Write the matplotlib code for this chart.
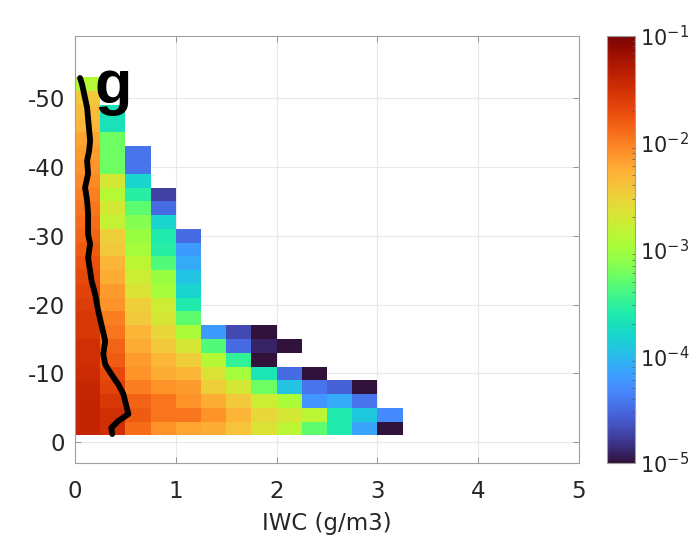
import numpy as np
import matplotlib
matplotlib.use("Agg")
import matplotlib.pyplot as plt
from matplotlib.colors import LogNorm

plt.rcParams['font.family'] = ['DejaVu Sans']
plt.rcParams['axes.unicode_minus'] = False

# IWC bins (g/m3) and temperature bins (deg C)
iwc_edges = np.arange(0, 3.5, 0.25)
temp_edges = np.arange(-53, 0, 2)

# log10 of the normalised frequency, per IWC column, listed from the
# coldest occupied row down to the -1 C row; None = no samples
log_freq_cols = [
    [-2.9, -2.45, -2.35, -2.3, -2.2, -2.15, -2.1, -2.05, -2.0, -1.95, -1.9, -1.85, -1.8,
     -1.75, -1.7, -1.65, -1.6, -1.55, -1.55, -1.5, -1.5, -1.45, -1.42, -1.4, -1.4, -1.4],
    [-3.7, -3.7, -3.25, -3.25, -3.25, -2.7, -2.9, -2.7, -2.8, -2.5, -2.45, -2.3, -2.25,
     -2.15, -2.1, -2.0, -1.95, -1.85, -1.8, -1.7, -1.65, -1.55, -1.5, -1.5],
    [-4.45, -4.45, -3.8, -3.55, -3.3, -3.15, -3.05, -3.0, -2.85, -2.75, -2.65, -2.5, -2.45,
     -2.3, -2.25, -2.15, -2.1, -2.0, -1.85, -1.8, -1.9],
    [-4.75, -4.5, -3.8, -3.6, -3.55, -3.35, -3.05, -3.0, -2.75, -2.7, -2.55, -2.45, -2.3,
     -2.25, -2.1, -1.95, -1.95, -2.1],
    [-4.5, -4.2, -4.1, -3.95, -3.8, -3.6, -3.3, -2.95, -2.7, -2.5, -2.3, -2.15, -2.1,
     -1.95, -2.2],
    [-4.2, -3.35, -2.9, -2.65, -2.5, -2.25, -2.1, -2.25],
    [-4.7, -4.5, -3.5, -3.0, -2.7, -2.45, -2.3, -2.4],
    [-5.0, -4.9, -5.0, -3.65, -3.25, -2.75, -2.55, -2.65],
    [-5.0, None, -4.5, -3.95, -2.95, -2.7, -2.85],
    [-5.0, -4.45, -4.25, -2.85, -3.3],
    [-4.55, -4.1, -3.6, -3.6],
    [-5.0, -4.45, -3.9, -4.15],
    [-4.3, -5.0],
]

# median IWC profile
median_iwc = [0.05, 0.07, 0.12, 0.15, 0.14, 0.12, 0.13, 0.10, 0.12, 0.13, 0.13, 0.15, 0.13,
              0.165, 0.20, 0.23, 0.26, 0.30, 0.28, 0.30, 0.36, 0.43, 0.48, 0.53, 0.43, 0.36, 0.37]
median_temp = [-52.9, -52.0, -48.6, -43.8, -42.3, -40.9, -39.0, -37.0, -35.1, -33.1, -30.2,
               -28.8, -26.8, -23.4, -21.5, -19.1, -17.2, -14.7, -12.8, -11.3, -9.9, -8.4,
               -7.0, -4.1, -3.1, -2.1, -1.2]

n_rows = len(temp_edges) - 1
grid = np.full((n_rows, len(log_freq_cols)), np.nan)
for j, col in enumerate(log_freq_cols):
    start = n_rows - len(col)
    for i, v in enumerate(col):
        if v is not None:
            grid[start + i, j] = 10.0 ** v
freq = np.ma.masked_invalid(grid)

fig = plt.figure(figsize=(6.97, 5.42), dpi=100)
ax = fig.add_axes([0.1076, 0.1458, 0.7231, 0.7878])
cax = fig.add_axes([0.8709, 0.1458, 0.0402, 0.7878])

mesh = ax.pcolormesh(iwc_edges, temp_edges, freq, cmap='turbo',
                     norm=LogNorm(vmin=1e-5, vmax=1e-1), shading='flat')
ax.plot(median_iwc, median_temp, color='black', lw=4.2, solid_joinstyle='round',
        solid_capstyle='round')

ax.set_xlim(0, 5)
ax.set_ylim(3, -59)
ax.set_xticks([0, 1, 2, 3, 4, 5])
ax.set_yticks([0, -10, -20, -30, -40, -50])
ax.set_axisbelow(True)
ax.grid(True, color='#e8e8e8', lw=0.8)
ax.tick_params(direction='in', length=4, width=0.6, color='#888888',
               top=True, right=True, labelsize=16.5, labelcolor='#262626')
ax.tick_params(axis='y', pad=7)
ax.tick_params(axis='x', pad=12)
for sp in ax.spines.values():
    sp.set_color('#a0a0a0')
    sp.set_linewidth(0.8)
ax.set_xlabel('IWC (g/m3)', fontsize=16.5, color='#262626', labelpad=7)

ax.text(0.38, -49.2, 'g', fontsize=44, fontweight='bold', family='Liberation Sans',
        ha='center', va='baseline', color='black')

cb = fig.colorbar(mesh, cax=cax)
cb.ax.tick_params(which='both', direction='in', color='#555555', labelsize=15,
                  labelcolor='#262626')
cb.ax.tick_params(which='major', length=0)
cb.ax.tick_params(which='minor', length=2.5, width=0.5)
cb.outline.set_edgecolor('#a0a0a0')
cb.outline.set_linewidth(0.8)

fig.savefig('out.png', dpi=100)
